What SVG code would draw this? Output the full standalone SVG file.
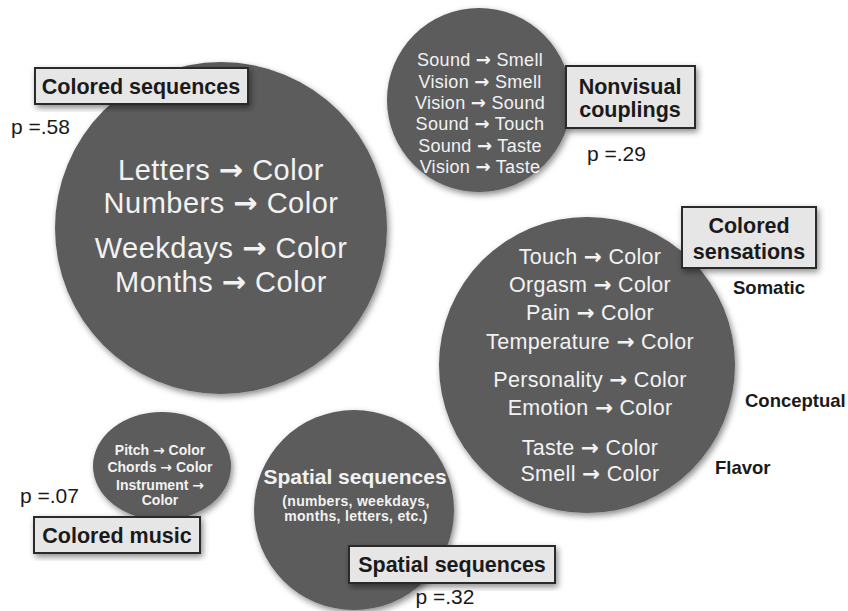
<svg xmlns="http://www.w3.org/2000/svg" width="848" height="611" viewBox="0 0 848 611">
<defs>
<filter id="sh" x="-20%" y="-20%" width="140%" height="140%">
<feDropShadow dx="2" dy="3" stdDeviation="3" flood-color="#000" flood-opacity="0.45"/>
</filter>
</defs>
<style>
.c{fill:#5b5b5b;filter:url(#sh)}
.w{fill:#f2f2f2;font-family:"Liberation Sans",Arial,sans-serif;text-anchor:middle}
.a{font-family:"DejaVu Sans",sans-serif;font-weight:bold}
.lb{fill:#e6e6e6;stroke:#2a2a2a;stroke-width:2;filter:url(#sh)}
.lt{fill:#1a1a1a;font-family:"Liberation Sans",Arial,sans-serif;font-weight:bold;text-anchor:middle;font-size:21.5px}
.p{fill:#1a1a1a;font-family:"Liberation Sans",Arial,sans-serif;font-size:21px}
.k{fill:#1a1a1a;font-family:"Liberation Sans",Arial,sans-serif;font-weight:bold;font-size:18.5px}
</style>
<rect width="848" height="611" fill="#ffffff"/>
<g id="connectors"/>
<g id="colored-sequences">
<circle class="c" cx="221" cy="228" r="166"/>
<g class="w" font-size="29" letter-spacing="0.5">
<text x="221" y="180">Letters <tspan class="a">→</tspan> Color</text>
<text x="221" y="213">Numbers <tspan class="a">→</tspan> Color</text>
<text x="221" y="258">Weekdays <tspan class="a">→</tspan> Color</text>
<text x="221" y="292">Months <tspan class="a">→</tspan> Color</text>
</g>
<rect class="lb" x="35" y="68" width="213" height="36"/>
<text class="lt" x="141" y="94">Colored sequences</text>
<text class="p" x="11" y="134">p =.58</text>
</g>
<g id="nonvisual-couplings">
<circle class="c" cx="479" cy="100" r="92"/>
<g class="w" font-size="18" letter-spacing="0.3">
<text x="480" y="66">Sound <tspan class="a">→</tspan> Smell</text>
<text x="480" y="88">Vision <tspan class="a">→</tspan> Smell</text>
<text x="480" y="109">Vision <tspan class="a">→</tspan> Sound</text>
<text x="480" y="130">Sound <tspan class="a">→</tspan> Touch</text>
<text x="480" y="152">Sound <tspan class="a">→</tspan> Taste</text>
<text x="480" y="173">Vision <tspan class="a">→</tspan> Taste</text>
</g>
<rect class="lb" x="566" y="66" width="129" height="62"/>
<text class="lt" x="630" y="94">Nonvisual</text>
<text class="lt" x="630" y="117">couplings</text>
<text class="p" x="587" y="161">p =.29</text>
</g>
<g id="colored-sensations">
<circle class="c" cx="587" cy="365" r="148"/>
<g class="w" font-size="21.5" letter-spacing="0.3">
<text x="590" y="264">Touch <tspan class="a">→</tspan> Color</text>
<text x="590" y="292">Orgasm <tspan class="a">→</tspan> Color</text>
<text x="590" y="320">Pain <tspan class="a">→</tspan> Color</text>
<text x="590" y="349">Temperature <tspan class="a">→</tspan> Color</text>
<text x="590" y="387">Personality <tspan class="a">→</tspan> Color</text>
<text x="590" y="415">Emotion <tspan class="a">→</tspan> Color</text>
<text x="590" y="455">Taste <tspan class="a">→</tspan> Color</text>
<text x="590" y="481">Smell <tspan class="a">→</tspan> Color</text>
</g>
<rect class="lb" x="682" y="207" width="134" height="61"/>
<text class="lt" x="749" y="233">Colored</text>
<text class="lt" x="749" y="259">sensations</text>
<text class="k" x="733" y="294">Somatic</text>
<text class="k" x="745" y="407">Conceptual</text>
<text class="k" x="715" y="474">Flavor</text>
</g>
<g id="colored-music">
<ellipse class="c" cx="162" cy="466" rx="69" ry="54"/>
<g class="w" font-size="14" font-weight="bold">
<text x="160" y="455">Pitch <tspan class="a">→</tspan> Color</text>
<text x="160" y="472">Chords <tspan class="a">→</tspan> Color</text>
<text x="160" y="490">Instrument <tspan class="a">→</tspan></text>
<text x="160" y="505">Color</text>
</g>
<rect class="lb" x="34" y="517" width="166" height="36"/>
<text class="lt" x="117" y="543">Colored music</text>
<text class="p" x="20" y="503">p =.07</text>
</g>
<g id="spatial-sequences">
<circle class="c" cx="354" cy="510" r="100"/>
<text class="w" x="355" y="484" font-size="21" font-weight="bold">Spatial sequences</text>
<g class="w" font-size="14" font-weight="bold" letter-spacing="0.3">
<text x="356" y="506">(numbers, weekdays,</text>
<text x="356" y="521">months, letters, etc.)</text>
</g>
<rect class="lb" x="349" y="546" width="206" height="37"/>
<text class="lt" x="452" y="572">Spatial sequences</text>
<text class="p" x="445" y="604" text-anchor="middle" font-size="20">p =.32</text>
</g>
</svg>
